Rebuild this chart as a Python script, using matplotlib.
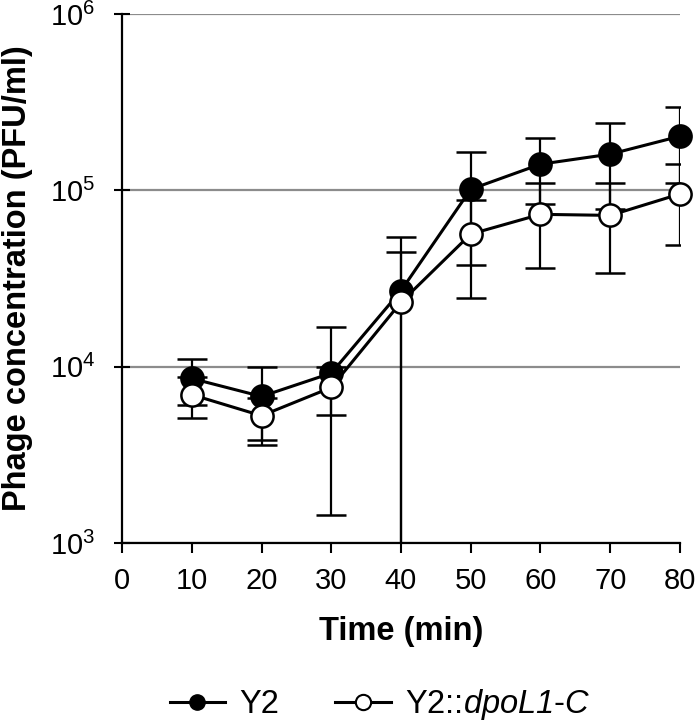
"""Phage concentration over time for Y2 and the Y2::dpoL1-C strain."""

import matplotlib

matplotlib.use("Agg")
import matplotlib.pyplot as plt

plt.rcParams["font.family"] = ["Liberation Sans", "DejaVu Sans"]
plt.rcParams["mathtext.fontset"] = "custom"
plt.rcParams["mathtext.rm"] = "Liberation Sans"
# \mathsf keeps digits in the given face, so it carries the italic gene name
plt.rcParams["mathtext.sf"] = "Liberation Sans:italic"

# Time points (min) and PFU/ml.
time_min = [10, 20, 30, 40, 50, 60, 70, 80]

y2_mean = [8570, 6780, 9190, 26970, 101400, 140700, 160400, 202700]
y2_lo = [6040, 3600, 1450, 300, 37900, 84200, 78700, 110400]
y2_hi = [11100, 10000, 16800, 54700, 164900, 197200, 242100, 295000]

mut_mean = [6940, 5270, 7620, 23200, 56500, 73100, 72100, 95400]
mut_lo = [5120, 3860, 5320, 300, 24400, 36100, 33800, 49100]
mut_hi = [8760, 6680, 9920, 44700, 88600, 110100, 110400, 141700]


def _yerr(mean, lo, hi):
    return [[m - l for m, l in zip(mean, lo)], [h - m for m, h in zip(mean, hi)]]


fig = plt.figure(figsize=(7.0, 7.25), dpi=100)
ax = fig.add_axes([0.1743, 0.251, 0.7971, 0.7297])

common = dict(color="black", linewidth=2.2, elinewidth=1.6, capsize=10.5,
              capthick=1.6, markersize=16, markeredgewidth=1.8)
for mean, lo, hi, face, z in ((y2_mean, y2_lo, y2_hi, "black", 3),
                              (mut_mean, mut_lo, mut_hi, "white", 4)):
    container = ax.errorbar(time_min, mean, yerr=_yerr(mean, lo, hi), marker="o",
                            markerfacecolor=face, markeredgecolor="black",
                            zorder=z, **common)
    container.lines[0].set_clip_on(False)

ax.set_yscale("log")
ax.set_ylim(1e3, 1e6)
ax.set_xlim(0, 80)
ax.set_xticks(range(0, 81, 10))
ax.minorticks_off()
ax.yaxis.grid(True, color="#8c8c8c", linewidth=1.6)
ax.set_axisbelow(True)
ax.spines[["top", "right"]].set_visible(False)
for side in ("left", "bottom"):
    ax.spines[side].set_linewidth(1.6)
ax.tick_params(axis="x", direction="out", length=7, width=1.5, labelsize=21, pad=10)
ax.tick_params(axis="y", direction="inout", length=11, width=1.5, labelsize=21, pad=14)

ax.set_xlabel("Time (min)", fontsize=23.5, fontweight="bold")
ax.set_ylabel("Phage concentration (PFU/ml)", fontsize=23.5, fontweight="bold")
ax.xaxis.set_label_coords(0.5, -0.138)
ax.yaxis.set_label_coords(-0.160, 0.5)

handles = [
    plt.Line2D([], [], color="black", linewidth=2.2, marker="o", markersize=11,
               markerfacecolor="black", markeredgecolor="black"),
    plt.Line2D([], [], color="black", linewidth=2.2, marker="o", markersize=11,
               markerfacecolor="white", markeredgecolor="black", markeredgewidth=1.5),
]
fig.legend(handles, ["Y2", r"Y2::$\mathsf{dpoL1}$-$\mathsf{C}$"], loc="center",
           bbox_to_anchor=(0.543, 0.028), ncol=2, frameon=False, fontsize=23.5,
           handlelength=1.7, handletextpad=0.45, columnspacing=1.7)

fig.savefig("out.png", dpi=100)
